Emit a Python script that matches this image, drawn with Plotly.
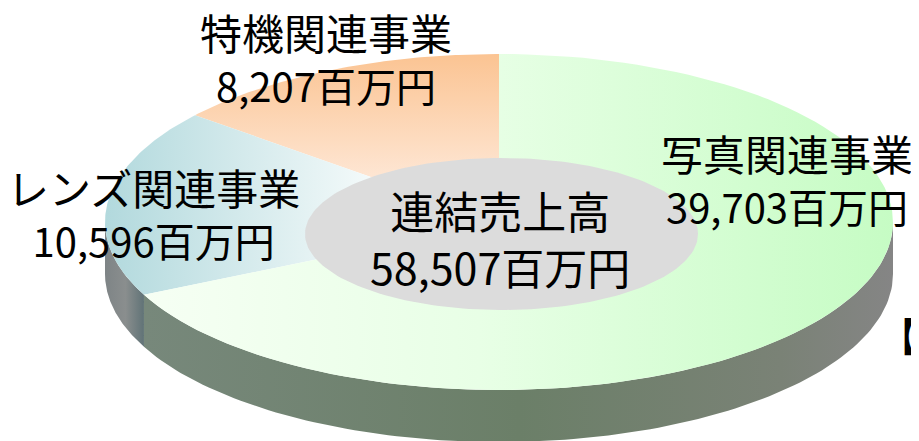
import numpy as np
import plotly.graph_objects as go

# ---- data ----
segments = ["特機関連事業", "レンズ関連事業", "写真関連事業"]
values = [8207, 10596, 39703]          # 百万円
total_label = "連結売上高"
total_value = 58507                    # as printed on the chart
unit = "百万円"

# ---- styling / geometry (pixel-like data space) ----
W, H = 919, 441
OFF = 8  # page body margin compensation
cx, cy, a, b, depth = 499, 222, 394, 168, 52
start_angle = 90.0  # degrees, slices go counter-clockwise from 12 o'clock

top_grad = {
    "特機関連事業": dict(type="vertical", colorscale=[[0, "#fbc493"], [1, "#fff3ec"]], start=55, stop=225),
    "レンズ関連事業": dict(type="horizontal", colorscale=[[0, "#b2d9dd"], [1, "#f6fbfb"]], start=105, stop=380),
    "写真関連事業": dict(type="horizontal", colorscale=[[0, "#f6fff4"], [0.45, "#e8ffe6"], [1, "#c6fcc4"]], start=140, stop=893),
}
wall_grad = {
    "レンズ関連事業": dict(type="horizontal", colorscale=[[0, "#7e8486"], [0.5, "#8a8e8e"], [1, "#5c7074"]], start=105, stop=146),
    "写真関連事業": dict(type="horizontal", colorscale=[[0, "#77887b"], [0.5, "#6b7f68"], [0.85, "#7a8276"], [1, "#858585"]], start=145, stop=893),
}
label_pos = {
    "特機関連事業": (326, 57),
    "レンズ関連事業": (153, 212),
    "写真関連事業": (787, 178),
}

FONT = "Noto Sans CJK JP, Noto Sans, sans-serif"

total = sum(values)
angles = [start_angle]
for v in values:
    angles.append(angles[-1] + 360.0 * v / total)

fig = go.Figure()


def arc(t0, t1, dy=0.0, n=120):
    t = np.radians(np.linspace(t0, t1, n))
    return cx + a * np.cos(t), cy - b * np.sin(t) + dy


# side wall (front half: 180..360 degrees)
for name, t0, t1 in zip(segments, angles[:-1], angles[1:]):
    for shift in (0, -360):
        l, h = max(t0 + shift, 180), min(t1 + shift, 360)
        if h > l:
            xt, yt = arc(l, h)
            xb, yb = arc(h, l, depth)
            xs = np.concatenate([xt, xb, xt[:1]])
            ys = np.concatenate([yt, yb, yt[:1]])
            fig.add_trace(go.Scatter(
                x=xs, y=ys, mode="lines", fill="toself",
                line=dict(width=0), fillgradient=wall_grad.get(name),
                fillcolor="#6f806c", hoverinfo="skip", showlegend=False))

# top slices
for name, t0, t1 in zip(segments, angles[:-1], angles[1:]):
    xa, ya = arc(t0, t1)
    xs = np.concatenate([[cx], xa, [cx]])
    ys = np.concatenate([[cy], ya, [cy]])
    fig.add_trace(go.Scatter(
        x=xs, y=ys, mode="lines", fill="toself",
        line=dict(width=0), fillgradient=top_grad[name],
        hoverinfo="skip", showlegend=False))

# centre label ellipse
tt = np.linspace(0, 2 * np.pi, 200)
fig.add_trace(go.Scatter(
    x=501.5 + 196.5 * np.cos(tt), y=234 + 76 * np.sin(tt), mode="lines",
    fill="toself", fillcolor="#dcdcdc", line=dict(width=0),
    hoverinfo="skip", showlegend=False))

# labels
for name, v in zip(segments, values):
    x, y = label_pos[name]
    fig.add_annotation(x=x, y=y,
                       text=f"<span style='font-size:42px'>{name}</span><br>{v:,}{unit}",
                       showarrow=False, xanchor="center", yanchor="middle",
                       font=dict(family=FONT, size=40, color="#000000"))
fig.add_annotation(x=500, y=237,
                   text=f"<span style='font-size:44px'>{total_label}</span><br>{total_value:,}{unit}",
                   showarrow=False, xanchor="center", yanchor="middle",
                   font=dict(family=FONT, size=43, color="#000000"))
fig.add_annotation(x=876, y=335, text="【", showarrow=False, xanchor="left", yanchor="middle",
                   font=dict(family=FONT, size=40, color="#000000"))

fig.update_layout(
    width=W, height=H, margin=dict(l=0, r=0, t=0, b=0),
    paper_bgcolor="white", plot_bgcolor="white",
    xaxis=dict(range=[OFF, W + OFF], visible=False, fixedrange=True),
    yaxis=dict(range=[H + OFF, OFF], visible=False, fixedrange=True),
    showlegend=False,
)
fig.write_html("out.html")
